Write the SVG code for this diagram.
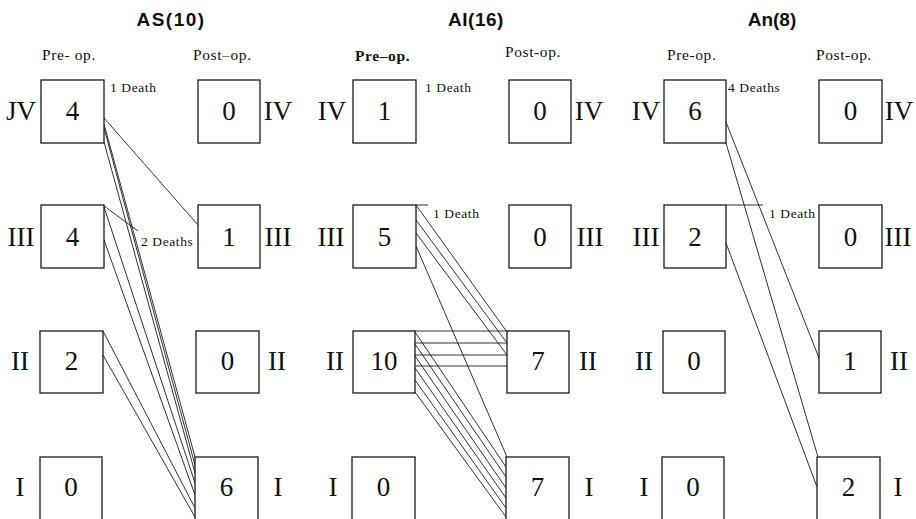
<svg xmlns="http://www.w3.org/2000/svg" width="916" height="519" viewBox="0 0 916 519">
  <style>
    .box { fill: #fff; stroke: #1a1a1a; stroke-width: 1.3; }
    .num { font-family: "Liberation Serif", "DejaVu Serif", serif; font-size: 27px; text-anchor: middle; fill: #111; }
    .rom { font-family: "Liberation Serif", "DejaVu Serif", serif; font-size: 27px; text-anchor: middle; fill: #111; }
    .hdr { font-family: "Liberation Serif", "DejaVu Serif", serif; font-size: 15.5px; letter-spacing: 0.6px; fill: #111; }
    .death { font-family: "Liberation Serif", "DejaVu Serif", serif; font-size: 13.5px; letter-spacing: 0.6px; fill: #111; }
    .title { font-family: "Liberation Sans", Arial, sans-serif; font-size: 19px; font-weight: bold; text-anchor: middle; fill: #111; }
    .links line { stroke: #1a1a1a; stroke-width: 0.9; fill: none; }
  </style>

  <!-- panel titles and column headers -->
  <g id="headers">
    <text class="title" x="171" y="26" letter-spacing="1.5">AS(10)</text>
    <text class="title" x="476" y="26" letter-spacing="0.5">AI(16)</text>
    <text class="title" x="772" y="26">An(8)</text>

    <text class="hdr" x="42" y="60">Pre- op.</text>
    <text class="hdr" x="193" y="60">Post–op.</text>
    <text class="hdr" x="355" y="61" font-weight="bold" letter-spacing="0.3">Pre–op.</text>
    <text class="hdr" x="505" y="57">Post-op.</text>
    <text class="hdr" x="667" y="60">Pre-op.</text>
    <text class="hdr" x="816" y="60">Post-op.</text>
  </g>

  <!-- connectors: patient transitions between grades -->
  <g id="connectors" class="links">
    <!-- AS -->
    <line x1="104" y1="118" x2="198" y2="225"/>
    <line x1="104" y1="124" x2="195" y2="457"/>
    <line x1="104" y1="128" x2="195" y2="465"/>
    <line x1="104" y1="142" x2="195" y2="473"/>
    <line x1="104" y1="206" x2="138" y2="231"/>
    <line x1="104" y1="207" x2="195" y2="483"/>
    <line x1="104" y1="240" x2="195" y2="495"/>
    <line x1="103" y1="331" x2="195" y2="508"/>
    <line x1="103" y1="355" x2="195" y2="517"/>
    <!-- AI -->
    <line x1="416" y1="205" x2="428" y2="205"/>
    <line x1="416" y1="205" x2="507" y2="332"/>
    <line x1="416" y1="220" x2="507" y2="343"/>
    <line x1="416" y1="233" x2="507" y2="355"/>
    <line x1="416" y1="246" x2="507" y2="457"/>
    <line x1="415" y1="331" x2="507" y2="331"/>
    <line x1="415" y1="343" x2="507" y2="343"/>
    <line x1="415" y1="355" x2="507" y2="355"/>
    <line x1="415" y1="366" x2="507" y2="366"/>
    <line x1="415" y1="332" x2="506" y2="467"/>
    <line x1="415" y1="344" x2="506" y2="477"/>
    <line x1="415" y1="356" x2="506" y2="488"/>
    <line x1="415" y1="368" x2="506" y2="498"/>
    <line x1="415" y1="380" x2="506" y2="508"/>
    <line x1="415" y1="392" x2="506" y2="517"/>
    <!-- An -->
    <line x1="726" y1="122" x2="819" y2="358"/>
    <line x1="726" y1="143" x2="818" y2="457"/>
    <line x1="726" y1="205" x2="763" y2="205"/>
    <line x1="726" y1="243" x2="817" y2="487"/>
  </g>

  <!-- AS panel -->
  <g id="as-pre-4"><rect class="box" x="41" y="80" width="63" height="63"/><text class="num" x="72.5" y="120">4</text><text class="rom" x="21" y="120">JV</text></g>
  <g id="as-pre-3"><rect class="box" x="41" y="205" width="63" height="63"/><text class="num" x="72.5" y="246">4</text><text class="rom" x="21" y="246">III</text></g>
  <g id="as-pre-2"><rect class="box" x="40" y="331" width="63" height="62"/><text class="num" x="71.5" y="370">2</text><text class="rom" x="20" y="370">II</text></g>
  <g id="as-pre-1"><rect class="box" x="40" y="457" width="62" height="64"/><text class="num" x="71" y="496">0</text><text class="rom" x="20" y="496">I</text></g>
  <g id="as-post-4"><rect class="box" x="198" y="80" width="62" height="63"/><text class="num" x="229" y="120">0</text><text class="rom" x="278" y="120">IV</text></g>
  <g id="as-post-3"><rect class="box" x="198" y="205" width="62" height="63"/><text class="num" x="229" y="246">1</text><text class="rom" x="278" y="246">III</text></g>
  <g id="as-post-2"><rect class="box" x="196" y="331" width="63" height="62"/><text class="num" x="227.5" y="370">0</text><text class="rom" x="277" y="370">II</text></g>
  <g id="as-post-1"><rect class="box" x="195" y="457" width="63" height="64"/><text class="num" x="226.5" y="496">6</text><text class="rom" x="278" y="496">I</text></g>
  <g id="as-deaths">
    <text class="death" x="110" y="92">1 Death</text>
    <text class="death" x="141" y="246">2 Deaths</text>
  </g>

  <!-- AI panel -->
  <g id="ai-pre-4"><rect class="box" x="353" y="80" width="63" height="63"/><text class="num" x="384.5" y="120">1</text><text class="rom" x="332" y="120">IV</text></g>
  <g id="ai-pre-3"><rect class="box" x="353" y="205" width="63" height="63"/><text class="num" x="384.5" y="246">5</text><text class="rom" x="331" y="246">III</text></g>
  <g id="ai-pre-2"><rect class="box" x="353" y="331" width="62" height="62"/><text class="num" x="384" y="370">10</text><text class="rom" x="335" y="370">II</text></g>
  <g id="ai-pre-1"><rect class="box" x="352" y="457" width="63" height="64"/><text class="num" x="383.5" y="496">0</text><text class="rom" x="333" y="496">I</text></g>
  <g id="ai-post-4"><rect class="box" x="509" y="80" width="62" height="63"/><text class="num" x="540" y="120">0</text><text class="rom" x="589" y="120">IV</text></g>
  <g id="ai-post-3"><rect class="box" x="509" y="205" width="62" height="63"/><text class="num" x="540" y="246">0</text><text class="rom" x="590" y="246">III</text></g>
  <g id="ai-post-2"><rect class="box" x="507" y="331" width="62" height="62"/><text class="num" x="538" y="370">7</text><text class="rom" x="588" y="370">II</text></g>
  <g id="ai-post-1"><rect class="box" x="506" y="457" width="63" height="64"/><text class="num" x="537.5" y="496">7</text><text class="rom" x="589" y="496">I</text></g>
  <g id="ai-deaths">
    <text class="death" x="425" y="92">1 Death</text>
    <text class="death" x="433" y="218">1 Death</text>
  </g>

  <!-- An panel -->
  <g id="an-pre-4"><rect class="box" x="664" y="80" width="62" height="63"/><text class="num" x="695" y="120">6</text><text class="rom" x="646" y="120">IV</text></g>
  <g id="an-pre-3"><rect class="box" x="664" y="205" width="62" height="63"/><text class="num" x="695" y="246">2</text><text class="rom" x="646" y="246">III</text></g>
  <g id="an-pre-2"><rect class="box" x="663" y="331" width="62" height="62"/><text class="num" x="694" y="370">0</text><text class="rom" x="644" y="370">II</text></g>
  <g id="an-pre-1"><rect class="box" x="662" y="457" width="62" height="64"/><text class="num" x="693" y="496">0</text><text class="rom" x="644" y="496">I</text></g>
  <g id="an-post-4"><rect class="box" x="819" y="80" width="63" height="63"/><text class="num" x="850.5" y="120">0</text><text class="rom" x="899" y="120">IV</text></g>
  <g id="an-post-3"><rect class="box" x="819" y="205" width="63" height="63"/><text class="num" x="850.5" y="246">0</text><text class="rom" x="898" y="246">III</text></g>
  <g id="an-post-2"><rect class="box" x="819" y="331" width="62" height="62"/><text class="num" x="850" y="370">1</text><text class="rom" x="899" y="370">II</text></g>
  <g id="an-post-1"><rect class="box" x="817" y="457" width="63" height="64"/><text class="num" x="848.5" y="496">2</text><text class="rom" x="898" y="496">I</text></g>
  <g id="an-deaths">
    <text class="death" x="728" y="92">4 Deaths</text>
    <text class="death" x="769" y="218">1 Death</text>
  </g>
</svg>
